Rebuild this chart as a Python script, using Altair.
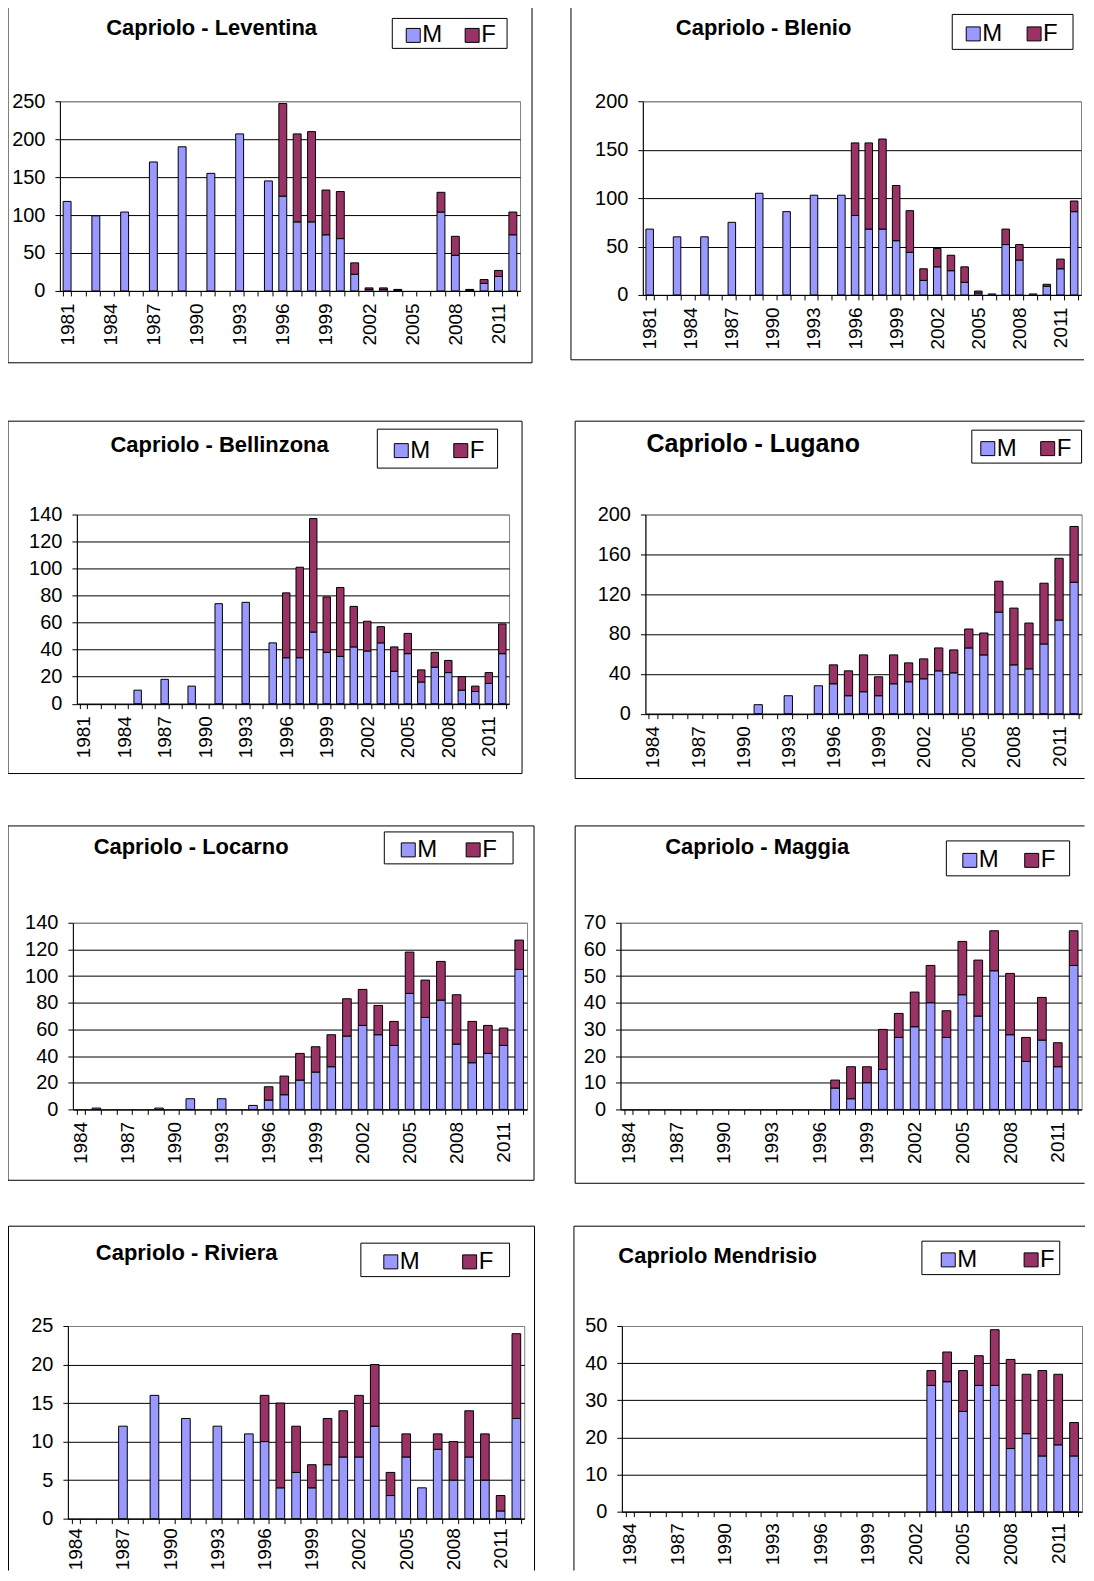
import altair as alt
import pandas as pd

FONT = "Liberation Sans"
M_COLOR = "#9999FF"
F_COLOR = "#993366"

years_1981 = list(range(1981, 2013))
years_1984 = list(range(1984, 2013))

# ---------------- data ----------------
lev_title = "Capriolo - Leventina"
lev_years = [1981, 1983, 1985, 1987, 1989, 1991, 1993, 1995, 1996, 1997, 1998, 1999,
             2000, 2001, 2002, 2003, 2004, 2007, 2008, 2009, 2010, 2011, 2012]
lev_m = [118, 99, 104, 170, 190, 155, 207, 145, 125, 91, 91, 74, 69, 22, 2, 2, 1, 104, 47, 1, 10, 19, 74]
lev_f = [0, 0, 0, 0, 0, 0, 0, 0, 122, 116, 119, 59, 62, 15, 2, 2, 1, 26, 25, 1, 5, 8, 30]

ble_title = "Capriolo - Blenio"
ble_years = [1981, 1983, 1985, 1987, 1989, 1991, 1993, 1995, 1996, 1997, 1998, 1999, 2000,
             2001, 2002, 2003, 2004, 2005, 2006, 2007, 2008, 2009, 2010, 2011, 2012]
ble_m = [68, 60, 60, 75, 105, 86, 103, 103, 82, 68, 68, 56, 44, 15, 29, 25, 13, 2, 1, 52, 36, 1, 9, 27, 86]
ble_f = [0, 0, 0, 0, 0, 0, 0, 0, 75, 89, 93, 57, 43, 12, 19, 16, 16, 2, 0, 16, 16, 0, 2, 10, 11]

bel_title = "Capriolo - Bellinzona"
bel_years = [1985, 1987, 1989, 1991, 1993, 1995, 1996, 1997, 1998, 1999, 2000, 2001,
             2002, 2003, 2004, 2005, 2006, 2007, 2008, 2009, 2010, 2011, 2012]
bel_m = [10, 18, 13, 74, 75, 45, 34, 34, 53, 38, 35, 42, 39, 45, 24, 37, 16, 27, 23, 10, 9, 15, 37]
bel_f = [0, 0, 0, 0, 0, 0, 48, 67, 84, 41, 51, 30, 22, 12, 18, 15, 9, 11, 9, 10, 4, 8, 22]

lug_title = "Capriolo - Lugano"
lug_years = [1991, 1993, 1995, 1996, 1997, 1998, 1999, 2000, 2001, 2002, 2003, 2004,
             2005, 2006, 2007, 2008, 2009, 2010, 2011, 2012]
lug_m = [9, 18, 28, 30, 18, 22, 18, 30, 32, 35, 43, 41, 66, 59, 102, 49, 45, 70, 94, 132]
lug_f = [0, 0, 0, 19, 25, 37, 19, 29, 19, 20, 23, 23, 19, 22, 31, 57, 46, 61, 62, 56]

loc_title = "Capriolo - Locarno"
loc_years = [1985, 1989, 1991, 1993, 1995, 1996, 1997, 1998, 1999, 2000, 2001, 2002,
             2003, 2004, 2005, 2006, 2007, 2008, 2009, 2010, 2011, 2012]
loc_m = [1, 1, 8, 8, 3, 7, 11, 22, 28, 32, 55, 63, 56, 48, 87, 69, 82, 49, 35, 42, 48, 105]
loc_f = [0, 0, 0, 0, 0, 10, 14, 20, 19, 24, 28, 27, 22, 18, 31, 28, 29, 37, 31, 21, 13, 22]

mag_title = "Capriolo - Maggia"
mag_years = [1997, 1998, 1999, 2000, 2001, 2002, 2003, 2004, 2005, 2006, 2007, 2008,
             2009, 2010, 2011, 2012]
mag_m = [8, 4, 10, 15, 27, 31, 40, 27, 43, 35, 52, 28, 18, 26, 16, 54]
mag_f = [3, 12, 6, 15, 9, 13, 14, 10, 20, 21, 15, 23, 9, 16, 9, 13]

riv_title = "Capriolo - Riviera"
riv_years = [1987, 1989, 1991, 1993, 1995, 1996, 1997, 1998, 1999, 2000, 2001, 2002,
             2003, 2004, 2005, 2006, 2007, 2008, 2009, 2010, 2011, 2012]
riv_m = [12, 16, 13, 12, 11, 10, 4, 6, 4, 7, 8, 8, 12, 3, 8, 4, 9, 5, 8, 5, 1, 13]
riv_f = [0, 0, 0, 0, 0, 6, 11, 6, 3, 6, 6, 8, 8, 3, 3, 0, 2, 5, 6, 6, 2, 11]

men_title = "Capriolo Mendrisio"
men_years = [2003, 2004, 2005, 2006, 2007, 2008, 2009, 2010, 2011, 2012]
men_m = [34, 35, 27, 34, 34, 17, 21, 15, 18, 15]
men_f = [4, 8, 11, 8, 15, 24, 16, 23, 19, 9]

# y axis extents (max, step)
lev_y = (250, 50)
ble_y = (200, 50)
bel_y = (140, 20)
lug_y = (200, 40)
loc_y = (140, 20)
mag_y = (70, 10)
riv_y = (25, 5)
men_y = (50, 10)

# ---------------- layout (pixel positions in the reference page) ----------------
LAY = {
    "lev": dict(plot=(59, 102, 520, 292), frame=(7, 7, 532, 364), title=(211, 36, 22),
                lbox=(392, 19, 507, 49), sq=(406, 465), lpad=7),
    "ble": dict(plot=(642, 102, 1081, 296), frame=(570, 7, None, 361), title=(763, 36, 22),
                lbox=(952, 15, 1073, 50), sq=(966, 1027), lpad=7),
    "bel": dict(plot=(76, 514.5, 509, 704), frame=(7, 421, 522, 774), title=(219, 452, 22),
                lbox=(377, 429, 497.5, 468), sq=(394, 453.6), lpad=7),
    "lug": dict(plot=(644, 514.5, 1081, 714), frame=(573.6, 421, None, 779), title=(752, 452, 25),
                lbox=(971, 430, 1081, 463), sq=(980, 1040), lpad=7),
    "loc": dict(plot=(72, 922, 527, 1109), frame=(7, 825, 534, 1180), title=(190.5, 853, 22),
                lbox=(384, 831, 513, 863), sq=(401, 466), lpad=7),
    "mag": dict(plot=(619, 922, 1081, 1109), frame=(573.6, 825, None, 1183), title=(756, 853, 22),
                lbox=(945.5, 840, 1069, 875), sq=(962, 1024), lpad=7),
    "riv": dict(plot=(66.5, 1325, 523.7, 1518), frame=(7, 1225, 534, None), title=(185.5, 1259, 22),
                lbox=(360, 1242, 509, 1275.5), sq=(383, 462), lpad=4),
    "men": dict(plot=(620, 1325, 1081, 1511), frame=(572, 1225, None, None), title=(716, 1262, 22),
                lbox=(920.6, 1240, 1058.7, 1273.5), sq=(940, 1023), lpad=6),
}

LABEL_SIZE = 24
LABEL_OFFSET = -3
SYM = 14
PAGE_RIGHT = 1084
PAGE_BOTTOM = 1570
ONE = pd.DataFrame({"k": [0]})


def seg(x0, y0, x1, y1, ox, oy):
    return alt.Chart(ONE).mark_rule(color="black", strokeWidth=1).encode(
        x=alt.value(x0 - ox), x2=alt.value(x1 - ox),
        y=alt.value(y0 - oy), y2=alt.value(y1 - oy),
    )


def rect(x0, y0, x1, y1, ox, oy, visible=True):
    return alt.Chart(ONE).mark_rect(
        fill="white", fillOpacity=0, stroke="black", strokeWidth=1,
        strokeOpacity=1 if visible else 0,
    ).encode(
        x=alt.value(x0 - ox), x2=alt.value(x1 - ox),
        y=alt.value(y0 - oy), y2=alt.value(y1 - oy),
    )


def panel(key, title, years_all, yrs, m, f, yinfo, spacer_to=None):
    L = LAY[key]
    px0, py0, px1, py1 = L["plot"]
    fx0, fy0, fx1, fy1 = L["frame"]
    tx, ty, tsize = L["title"]
    lx0, ly0, lx1, ly1 = L["lbox"]
    sq1, sq2 = L["sq"]
    ymax, ystep = yinfo
    rows = []
    for yr, a, b in zip(yrs, m, f):
        if a:
            rows.append({"year": yr, "sex": "M", "n": a, "o": 0})
        if b:
            rows.append({"year": yr, "sex": "F", "n": b, "o": 1})
    df = pd.DataFrame(rows)
    first = years_all[0]
    colpad = (sq2 - sq1) - (LABEL_SIZE + LABEL_OFFSET) - 0.833 * LABEL_SIZE
    bars = alt.Chart(df).mark_bar(stroke="black", strokeWidth=1).encode(
        x=alt.X(
            "year:O",
            scale=alt.Scale(domain=years_all, paddingInner=0.45, paddingOuter=0.225),
            axis=alt.Axis(
                title=None, labelAngle=-90, tickBand="extent",
                labelExpr=f"(datum.value - {first}) % 3 == 0 ? datum.label : ''",
                labelOverlap=False, labelPadding=L["lpad"], tickSize=5, labelFontSize=19,
            ),
        ),
        y=alt.Y(
            "n:Q", stack="zero",
            scale=alt.Scale(domain=[0, ymax], nice=False),
            axis=alt.Axis(
                title=None, values=list(range(0, ymax + 1, ystep)), tickSize=5,
                labelPadding=10, labelFontSize=20,
                gridColor={"condition": {"test": f"datum.value >= {ymax}", "value": "#808080"},
                           "value": "black"},
            ),
        ),
        color=alt.Color(
            "sex:N",
            scale=alt.Scale(domain=["M", "F"], range=[M_COLOR, F_COLOR]),
            legend=alt.Legend(
                title=None, orient="none", direction="horizontal",
                legendX=sq1 - (LABEL_SIZE - SYM) / 2 - px0,
                legendY=(ly0 + ly1) / 2 + 2 - LABEL_SIZE / 2 - py0,
                columnPadding=colpad,
            ),
        ),
        order=alt.Order("o:Q"),
    )
    ttl = alt.Chart(pd.DataFrame({"t": [title]})).mark_text(
        font=FONT, fontSize=tsize, fontWeight="bold", align="center",
        baseline="alphabetic", color="black",
    ).encode(text="t:N", x=alt.value(tx - px0), y=alt.value(ty - py0))

    right = fx1 if fx1 is not None else PAGE_RIGHT
    bottom = fy1 if fy1 is not None else PAGE_BOTTOM
    layers = [seg(fx0, fy0, right, fy0, px0, py0), seg(fx0, fy0, fx0, bottom, px0, py0)]
    if fx1 is not None:
        layers.append(seg(fx1, fy0, fx1, bottom, px0, py0))
    if fy1 is not None:
        layers.append(seg(fx0, fy1, right, fy1, px0, py0))
    layers.append(rect(lx0, ly0, lx1, ly1, px0, py0))
    layers += [bars, ttl]
    if spacer_to is not None:
        layers.append(rect(fx0 + 10, fy0, fx0 + 12, spacer_to - 0.5, px0, py0, visible=False))
    return alt.layer(*layers).properties(width=px1 - px0, height=py1 - py0)


def dummy():
    return alt.Chart(ONE).mark_rect(opacity=0).encode(
        x=alt.value(0), x2=alt.value(1), y=alt.value(0), y2=alt.value(1)
    ).properties(width=1, height=1, view=alt.ViewBackground(stroke="transparent"))


def row(lk, left, rk, right):
    s = (LAY[rk]["frame"][0] - 0.5) - (LAY[lk]["frame"][2] + 0.5)
    inner = alt.hconcat(left, right, spacing=s).resolve_scale(color="independent").resolve_legend(color="independent")
    return alt.hconcat(dummy(), inner, spacing=0).resolve_scale(color="independent").resolve_legend(color="independent")


lev = panel("lev", lev_title, years_1981, lev_years, lev_m, lev_f, lev_y, spacer_to=LAY["bel"]["frame"][1])
ble = panel("ble", ble_title, years_1981, ble_years, ble_m, ble_f, ble_y)
bel = panel("bel", bel_title, years_1981, bel_years, bel_m, bel_f, bel_y, spacer_to=LAY["loc"]["frame"][1])
lug = panel("lug", lug_title, years_1984, lug_years, lug_m, lug_f, lug_y)
loc = panel("loc", loc_title, years_1984, loc_years, loc_m, loc_f, loc_y, spacer_to=LAY["riv"]["frame"][1])
mag = panel("mag", mag_title, years_1984, mag_years, mag_m, mag_f, mag_y)
riv = panel("riv", riv_title, years_1984, riv_years, riv_m, riv_f, riv_y)
men = panel("men", men_title, years_1984, men_years, men_m, men_f, men_y)

chart = alt.vconcat(
    row("lev", lev, "ble", ble),
    row("bel", bel, "lug", lug),
    row("loc", loc, "mag", mag),
    row("riv", riv, "men", men),
    spacing=0, background="white",
    padding={"left": -4, "top": -4, "right": 0, "bottom": 0},
).resolve_scale(color="independent").resolve_legend(color="independent").configure_view(
    stroke="#808080", strokeWidth=1
).configure_axis(
    labelFont=FONT, labelColor="black", domainColor="black",
    domainWidth=1, tickColor="black", tickWidth=1, gridColor="black", gridWidth=1,
).configure_legend(
    labelFont=FONT, labelFontSize=LABEL_SIZE, labelColor="black",
    labelOffset={"expr": str(LABEL_OFFSET)},
    symbolType="square", symbolSize=SYM * SYM, symbolStrokeColor="black",
    symbolStrokeWidth=1, symbolOpacity=1, padding=0,
)

chart.save("out.html", embed_options={"renderer": "svg", "actions": False})
